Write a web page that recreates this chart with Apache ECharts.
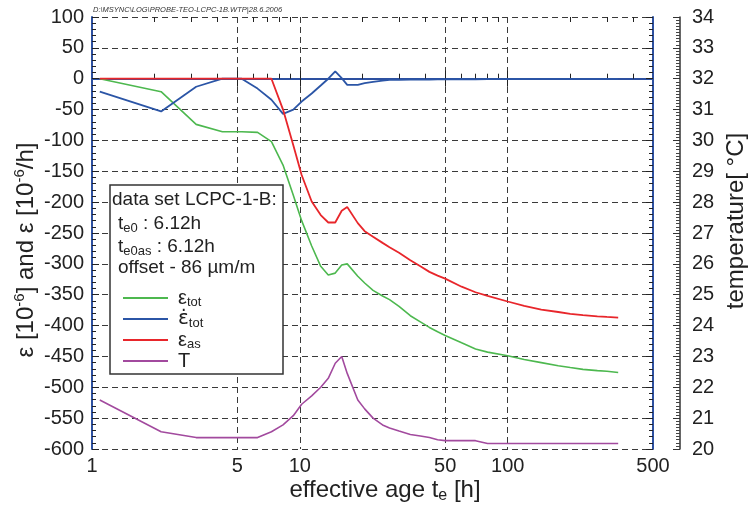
<!DOCTYPE html>
<html><head><meta charset="utf-8">
<script src="https://cdn.jsdelivr.net/npm/echarts@6/dist/echarts.min.js"></script>
<style>html,body{margin:0;padding:0;background:#fff}#c{width:748px;height:508px}</style>
</head><body><div id="c"></div>
<script>
// effective age [h]
const ageH = [1.09, 2.15, 3.17, 4.24, 5.25, 6.26, 7.3, 8.3, 9.3, 10.2, 11.4, 12.6, 13.7, 14.8, 15.9, 16.9, 19, 20.5, 22.5, 25, 27, 30, 34, 38, 42, 46, 50, 60, 70, 80, 100, 120, 145, 175, 200, 230, 270, 300, 340];
// total strain [1e-6]
const epsTot = [0, -21, -74, -86, -86, -87, -102, -140, -189, -230, -271, -304, -318, -315, -302, -300, -320, -331, -343, -352, -358, -369, -384, -394, -403, -410, -416, -428, -438, -443, -449, -455, -460, -465, -468, -471, -473, -474, -476];
// strain rate [1e-6/h]
const epsRate = [-21, -53, -13, 0, 0, -16, -34, -57, -50, -37, -24, -11, 0, 12, 1, -10, -10, -7, -5, -3, -2, -2, -1.5, -1, -1.5, -1, -1, -0.5, -1, -0.5, -0.5, -0.5, -0.3, -0.3, -0.3, -0.2, -0.2, -0.2, -0.2];
// autogenous shrinkage [1e-6]
const epsAs = [0, 0, 0, 0, 0, 0, 0, -50, -108, -156, -199, -221, -233, -233, -214, -208, -234, -247, -256, -266, -273, -282, -294, -304, -313, -319, -324, -337, -346, -352, -361, -368, -374, -378, -381, -383, -385, -386, -387];
// temperature [°C]
const tempC = [21.59, 20.56, 20.37, 20.37, 20.37, 20.37, 20.56, 20.78, 21.08, 21.45, 21.72, 22.0, 22.29, 22.78, 23.0, 22.45, 21.59, 21.3, 21.0, 20.78, 20.68, 20.58, 20.47, 20.42, 20.37, 20.3, 20.27, 20.27, 20.27, 20.18, 20.18, 20.18, 20.18, 20.18, 20.18, 20.18, 20.18, 20.18, 20.18];

const xLabelTicks = [1, 5, 10, 50, 100, 500];
const xMajorTicks = [5, 10, 50, 100];
const xMinorTicks = [2, 3, 4, 6, 7, 8, 9, 20, 30, 40, 60, 70, 80, 90, 200, 300, 400];
const zeroLine = [0];

function pairs(ys) { return ageH.map((t, i) => [t, ys[i]]); }

const FONT = '"Liberation Sans", Arial, Helvetica, sans-serif';
const AXBLUE = '#2d50a0';
const DASH = { color: '#3a3a3a', type: [6, 4], width: 1 };
const TXT = '#222';

const chart = echarts.init(document.getElementById('c'));
const xBase = { type: 'log', logBase: 10, min: 1, max: 500, gridIndex: 0 };
const yBase = { type: 'value', min: -600, max: 100, interval: 50 };

const legendNames = { eps_tot: '{e|ε}{s|tot}', eps_rate: '{d|ε̇}{s|tot}', eps_as: '{e|ε}{s|as}', T: '{e|T}' };

const option = {
  animation: false,
  backgroundColor: '#fff',
  grid: { left: 92, right: 95, top: 17, bottom: 59 },
  xAxis: [
    Object.assign({}, xBase, { position: 'bottom',
      axisLine: { show: true, lineStyle: { color: AXBLUE, width: 2 } },
      axisTick: { show: true, inside: true, length: 8, customValues: xMajorTicks, lineStyle: { color: TXT } },
      axisLabel: { show: true, customValues: xLabelTicks, fontSize: 20, color: TXT, fontFamily: FONT, margin: 7, formatter: v => String(v) },
      splitLine: { show: true, lineStyle: DASH } }),
    Object.assign({}, xBase, { position: 'bottom',
      axisLine: { show: false },
      axisTick: { show: true, inside: true, length: 5, customValues: xMinorTicks, lineStyle: { color: TXT } },
      axisLabel: { show: false }, splitLine: { show: false } }),
    Object.assign({}, xBase, { position: 'top',
      axisLine: { show: true, lineStyle: { color: AXBLUE, width: 2 } },
      axisTick: { show: true, inside: true, length: 8, customValues: xMajorTicks, lineStyle: { color: TXT } },
      axisLabel: { show: false }, splitLine: { show: false } }),
    Object.assign({}, xBase, { position: 'top',
      axisLine: { show: false },
      axisTick: { show: true, inside: true, length: 5, customValues: xMinorTicks, lineStyle: { color: TXT } },
      axisLabel: { show: false }, splitLine: { show: false } })
  ],
  yAxis: [
    Object.assign({}, yBase, { position: 'left',
      axisLine: { show: true, lineStyle: { color: AXBLUE, width: 2 } },
      axisTick: { show: true, inside: true, length: 7, lineStyle: { color: TXT } },
      minorTick: { show: true, splitNumber: 5, length: 4, lineStyle: { color: TXT } },
      axisLabel: { fontSize: 20, color: TXT, fontFamily: FONT, margin: 8 },
      splitLine: { show: true, lineStyle: DASH } }),
    { type: 'value', min: 20, max: 34, interval: 1, position: 'right', offset: 27,
      axisLine: { show: true, lineStyle: { color: '#333', width: 1.5 } },
      axisTick: { show: true, inside: true, length: 7, lineStyle: { color: '#333' } },
      minorTick: { show: true, splitNumber: 10, length: 4, lineStyle: { color: '#444' } },
      axisLabel: { fontSize: 20, color: TXT, fontFamily: FONT, margin: 12 },
      splitLine: { show: false } },
    Object.assign({}, yBase, { position: 'right', offset: 0,
      axisLine: { show: true, lineStyle: { color: AXBLUE, width: 2 } },
      axisTick: { show: true, inside: true, length: 7, lineStyle: { color: TXT } },
      minorTick: { show: true, splitNumber: 5, length: 4, lineStyle: { color: TXT } },
      axisLabel: { show: false }, splitLine: { show: false } }),
    Object.assign({}, yBase, { position: 'left',
      axisLine: { show: false },
      axisTick: { show: false, customValues: zeroLine },
      axisLabel: { show: false },
      splitLine: { show: true, lineStyle: { color: '#111', width: 1, type: 'solid' } } })
  ],
  legend: {
    left: 118, top: 283, orient: 'vertical', itemWidth: 45, itemHeight: 2, itemGap: 0,
    icon: 'rect',
    selectedMode: false, z: 20,
    data: ['eps_tot', 'eps_rate', 'eps_as', 'T'],
    formatter: n => legendNames[n],
    textStyle: { rich: {
      e: { fontSize: 20, fontFamily: FONT, color: TXT, lineHeight: 22, padding: [0, 0, 0, 5] },
      d: { fontSize: 20, fontFamily: '"DejaVu Sans", sans-serif', color: TXT, lineHeight: 22, padding: [0, 0, 0, 5] },
      s: { fontSize: 13, fontFamily: FONT, color: TXT, lineHeight: 14, verticalAlign: 'bottom' }
    } }
  },
  series: [
    { name: 'eps_tot', type: 'line', xAxisIndex: 0, yAxisIndex: 0, data: pairs(epsTot), symbol: 'none',
      lineStyle: { color: '#4db84f', width: 1.6 }, itemStyle: { color: '#4db84f' }, z: 3 },
    { name: 'eps_rate', type: 'line', xAxisIndex: 0, yAxisIndex: 0, data: pairs(epsRate), symbol: 'none',
      lineStyle: { color: '#2b55a6', width: 1.8 }, itemStyle: { color: '#2b55a6' }, z: 3 },
    { name: 'eps_as', type: 'line', xAxisIndex: 0, yAxisIndex: 0, data: pairs(epsAs), symbol: 'none',
      lineStyle: { color: '#e8262b', width: 1.8 }, itemStyle: { color: '#e8262b' }, z: 3 },
    { name: 'T', type: 'line', xAxisIndex: 0, yAxisIndex: 1, data: pairs(tempC), symbol: 'none',
      lineStyle: { color: '#a24a9e', width: 1.6 }, itemStyle: { color: '#a24a9e' }, z: 3 }
  ],
  graphic: [
    { type: 'rect', z: 10, shape: { x: 110, y: 185, width: 173, height: 189 },
      style: { fill: '#fff', stroke: '#333', lineWidth: 1.5 } },
    { type: 'text', z: 20, x: 112, y: 200, style: { text: 'data set LCPC-1-B:', fontSize: 19, fontFamily: FONT, fill: TXT, align: 'left', verticalAlign: 'middle' } },
    { type: 'text', z: 20, x: 118, y: 224, style: { text: '{m|t}{s|e0}{m| : 6.12h}', align: 'left', verticalAlign: 'middle',
      rich: { m: { fontSize: 19, fontFamily: FONT, fill: TXT, lineHeight: 22 }, s: { fontSize: 13, fontFamily: FONT, fill: TXT, lineHeight: 14, verticalAlign: 'bottom' } } } },
    { type: 'text', z: 20, x: 118, y: 247, style: { text: '{m|t}{s|e0as}{m| : 6.12h}', align: 'left', verticalAlign: 'middle',
      rich: { m: { fontSize: 19, fontFamily: FONT, fill: TXT, lineHeight: 22 }, s: { fontSize: 13, fontFamily: FONT, fill: TXT, lineHeight: 14, verticalAlign: 'bottom' } } } },
    { type: 'text', z: 20, x: 118, y: 268, style: { text: 'offset - 86 µm/m', fontSize: 19, fontFamily: FONT, fill: TXT, align: 'left', verticalAlign: 'middle' } },
    { type: 'text', z: 20, x: 93, y: 10, style: { text: 'D:\\MSYNC\\LOG\\PROBE-TEO-LCPC-1B.WTP|28.6.2006', fontSize: 7.5, fontStyle: 'italic', fontFamily: FONT, fill: '#333', align: 'left', verticalAlign: 'middle' } },
    { type: 'text', z: 20, x: 385, y: 490, style: { text: '{m|effective age t}{s|e}{m| [h]}', align: 'center', verticalAlign: 'middle',
      rich: { m: { fontSize: 24, fontFamily: FONT, fill: TXT, lineHeight: 28 }, s: { fontSize: 16, fontFamily: FONT, fill: TXT, lineHeight: 16, verticalAlign: 'bottom' } } } },
    { type: 'text', z: 20, x: 26, y: 250, rotation: Math.PI / 2, style: { text: '{m|ε [10}{p|-6}{m|] and ε [10}{p|-6}{m|/h]}', align: 'center', verticalAlign: 'middle',
      rich: { m: { fontSize: 24, fontFamily: FONT, fill: TXT, lineHeight: 28 }, p: { fontSize: 15, fontFamily: FONT, fill: TXT, lineHeight: 16, verticalAlign: 'top' } } } },
    { type: 'text', z: 20, x: 736, y: 221, rotation: Math.PI / 2, style: { text: 'temperature[ °C]', fontSize: 24, fontFamily: FONT, fill: TXT, align: 'center', verticalAlign: 'middle' } }
  ]
};
chart.setOption(option);
</script></body></html>
